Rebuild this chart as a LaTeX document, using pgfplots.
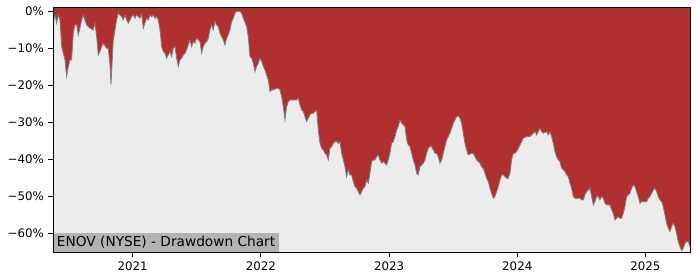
\documentclass[border=0pt]{standalone}
\usepackage{pgfplots}
\pgfplotsset{compat=1.18}
\usepackage{pgfplotstable}
\usepackage{fontspec}
\setmainfont{DejaVu Sans}
\definecolor{ddred}{RGB}{176,48,48}
\definecolor{bggray}{RGB}{236,236,236}
\definecolor{boxgray}{RGB}{179,179,179}
\definecolor{linegray}{RGB}{125,125,125}
\pgfplotstableread{
year dd
2020.381 -2.79
2020.394 -0.99
2020.407 -3.24
2020.420 -0.99
2020.433 -2.34
2020.446 -9.55
2020.459 -11.35
2020.472 -13.15
2020.485 -17.66
2020.498 -14.95
2020.511 -13.15
2020.524 -13.15
2020.537 -5.95
2020.550 -3.69
2020.563 -3.69
2020.576 -6.40
2020.589 -4.59
2020.602 -2.34
2020.615 -0.99
2020.628 -2.34
2020.641 -3.69
2020.667 -4.59
2020.693 -5.05
2020.706 -3.24
2020.719 -6.85
2020.732 -11.80
2020.745 -10.90
2020.758 -9.55
2020.771 -8.65
2020.797 -10.00
2020.810 -10.00
2020.823 -14.50
2020.831 -19.91
2020.841 -13.15
2020.849 -7.75
2020.862 -5.05
2020.875 -2.34
2020.888 -0.54
2020.901 -0.99
2020.914 -1.44
2020.927 -2.34
2020.940 -0.99
2020.953 -2.34
2020.966 -3.24
2020.979 -2.34
2020.992 -1.44
2021.005 -0.99
2021.018 -1.89
2021.031 -0.99
2021.057 -1.89
2021.070 -0.72
2021.083 -4.59
2021.096 -3.24
2021.109 -1.89
2021.122 -2.34
2021.135 -0.99
2021.148 -1.44
2021.161 -0.99
2021.174 -1.89
2021.187 -1.44
2021.200 -2.34
2021.213 -5.05
2021.226 -9.55
2021.239 -10.90
2021.252 -11.35
2021.265 -12.70
2021.278 -11.80
2021.291 -10.90
2021.304 -12.25
2021.317 -10.00
2021.330 -9.55
2021.343 -12.70
2021.356 -14.95
2021.369 -13.15
2021.382 -12.70
2021.395 -11.80
2021.408 -11.35
2021.421 -10.45
2021.434 -9.10
2021.447 -7.75
2021.460 -9.55
2021.473 -8.20
2021.486 -8.65
2021.499 -7.30
2021.512 -7.75
2021.525 -8.20
2021.538 -11.35
2021.551 -9.55
2021.564 -8.65
2021.577 -8.20
2021.590 -7.30
2021.603 -5.05
2021.616 -3.69
2021.629 -5.05
2021.642 -2.79
2021.655 -3.69
2021.668 -4.14
2021.681 -5.95
2021.694 -6.85
2021.707 -7.75
2021.720 -9.10
2021.733 -7.30
2021.746 -6.40
2021.759 -5.05
2021.772 -2.79
2021.785 -1.89
2021.798 -0.54
2021.811 0
2021.837 0
2021.850 -0.54
2021.863 -1.89
2021.889 -4.14
2021.902 -6.85
2021.915 -12.25
2021.928 -12.70
2021.941 -14.05
2021.954 -16.31
2021.967 -14.95
2021.980 -14.05
2021.993 -12.70
2022.006 -13.60
2022.019 -14.95
2022.032 -15.86
2022.045 -17.21
2022.058 -18.56
2022.071 -21.71
2022.084 -21.26
2022.097 -21.26
2022.123 -20.81
2022.136 -20.81
2022.149 -21.26
2022.162 -23.06
2022.175 -25.77
2022.188 -29.37
2022.201 -25.77
2022.214 -24.41
2022.227 -23.96
2022.253 -23.96
2022.279 -23.96
2022.292 -23.51
2022.305 -25.32
2022.318 -26.67
2022.331 -27.12
2022.344 -28.47
2022.357 -29.82
2022.370 -28.92
2022.383 -28.02
2022.396 -27.57
2022.409 -27.57
2022.422 -27.12
2022.435 -26.67
2022.448 -32.07
2022.461 -35.68
2022.474 -37.03
2022.487 -37.48
2022.500 -38.38
2022.513 -38.83
2022.526 -40.18
2022.539 -37.03
2022.552 -36.58
2022.565 -35.68
2022.578 -35.23
2022.591 -35.23
2022.604 -35.68
2022.617 -35.23
2022.630 -38.38
2022.643 -40.18
2022.656 -41.98
2022.669 -44.68
2022.682 -42.88
2022.695 -44.23
2022.708 -44.23
2022.721 -46.04
2022.734 -47.39
2022.747 -47.84
2022.760 -48.74
2022.773 -49.64
2022.786 -48.74
2022.799 -47.84
2022.812 -47.39
2022.825 -45.59
2022.838 -46.49
2022.851 -43.78
2022.864 -40.63
2022.877 -40.18
2022.890 -40.18
2022.903 -39.28
2022.916 -38.83
2022.929 -40.18
2022.942 -41.08
2022.955 -40.63
2022.968 -41.08
2022.981 -41.53
2022.994 -40.18
2023.007 -38.38
2023.020 -35.68
2023.033 -35.23
2023.046 -33.87
2023.059 -32.07
2023.072 -31.17
2023.085 -29.37
2023.098 -30.27
2023.111 -30.72
2023.124 -31.17
2023.137 -34.77
2023.150 -36.13
2023.163 -36.58
2023.176 -38.38
2023.189 -40.18
2023.202 -41.53
2023.215 -43.78
2023.228 -44.23
2023.241 -41.98
2023.254 -41.53
2023.267 -41.08
2023.280 -40.18
2023.293 -38.38
2023.306 -37.03
2023.319 -36.58
2023.332 -36.58
2023.345 -37.48
2023.358 -38.38
2023.371 -38.38
2023.384 -39.28
2023.397 -41.08
2023.410 -40.18
2023.423 -38.38
2023.436 -36.58
2023.449 -34.77
2023.462 -33.87
2023.475 -32.97
2023.501 -30.27
2023.527 -28.47
2023.540 -28.29
2023.553 -28.92
2023.566 -30.27
2023.579 -32.97
2023.592 -35.68
2023.605 -37.48
2023.618 -38.83
2023.631 -38.56
2023.657 -38.38
2023.670 -39.28
2023.683 -40.18
2023.709 -41.08
2023.722 -41.98
2023.735 -42.43
2023.748 -43.78
2023.761 -45.14
2023.774 -46.04
2023.787 -47.84
2023.800 -49.19
2023.813 -50.54
2023.826 -50.09
2023.839 -48.74
2023.852 -47.39
2023.865 -45.59
2023.878 -44.23
2023.891 -44.23
2023.904 -44.68
2023.917 -45.14
2023.930 -45.14
2023.943 -43.78
2023.956 -40.18
2023.969 -38.38
2023.982 -38.38
2023.995 -37.93
2024.008 -37.03
2024.021 -36.13
2024.034 -35.23
2024.047 -34.32
2024.073 -33.87
2024.099 -33.87
2024.112 -33.42
2024.125 -32.97
2024.138 -32.52
2024.151 -33.42
2024.164 -32.52
2024.177 -31.62
2024.190 -32.52
2024.203 -32.97
2024.229 -32.52
2024.242 -33.42
2024.255 -32.52
2024.268 -33.87
2024.281 -35.68
2024.294 -37.93
2024.307 -39.28
2024.320 -40.18
2024.333 -40.63
2024.346 -42.43
2024.359 -42.88
2024.372 -43.33
2024.385 -44.23
2024.398 -44.68
2024.411 -46.49
2024.424 -47.84
2024.437 -50.09
2024.450 -50.54
2024.463 -50.54
2024.489 -50.54
2024.502 -50.99
2024.515 -50.99
2024.528 -49.64
2024.541 -48.74
2024.554 -48.29
2024.567 -47.84
2024.580 -50.09
2024.593 -52.34
2024.606 -51.44
2024.619 -50.09
2024.632 -50.09
2024.645 -50.99
2024.658 -50.09
2024.671 -50.54
2024.684 -51.89
2024.697 -52.34
2024.723 -52.34
2024.736 -53.69
2024.749 -54.59
2024.762 -56.40
2024.775 -55.95
2024.788 -55.50
2024.801 -55.95
2024.814 -55.95
2024.827 -54.59
2024.840 -52.79
2024.853 -50.09
2024.866 -49.64
2024.879 -49.19
2024.892 -47.84
2024.905 -46.94
2024.918 -47.39
2024.931 -48.74
2024.944 -50.09
2024.957 -51.89
2024.970 -51.44
2024.983 -51.44
2025.009 -51.44
2025.022 -50.54
2025.035 -50.09
2025.048 -49.19
2025.061 -48.29
2025.074 -47.84
2025.087 -48.74
2025.100 -50.09
2025.113 -50.99
2025.126 -51.44
2025.139 -52.79
2025.152 -55.05
2025.165 -57.30
2025.178 -58.65
2025.191 -59.55
2025.204 -58.20
2025.217 -57.30
2025.230 -58.20
2025.243 -60.00
2025.256 -62.25
2025.269 -63.60
2025.282 -64.68
2025.295 -64.05
2025.308 -62.70
2025.321 -62.25
2025.334 -62.25
2025.347 -63.60
}\dd
\begin{document}
\begin{tikzpicture}
\begin{axis}[
  scale only axis,
  width=637.4bp, height=245bp,
  xmin=2020.381, xmax=2025.353,
  ymin=-65.14, ymax=1.08,
  axis background/.style={fill=ddred},
  axis on top,
  axis line style={black, line width=1.1bp},
  tick style={black, line width=1.1bp},
  major tick length=5bp,
  tick align=outside,
  xtick pos=bottom, ytick pos=left,
  xtick={2021,2022,2023,2024,2025},
  xticklabels={2021,2022,2023,2024,2025},
  ytick={-60,-50,-40,-30,-20,-10,0},
  yticklabels={−60\%,−50\%,−40\%,−30\%,−20\%,−10\%,0\%},
  ticklabel style={font=\fontsize{11.8bp}{14bp}\selectfont},
  xticklabel style={yshift=-1bp},
  yticklabel style={xshift=-1bp},
]
\addplot[fill=bggray, draw=none] table[x=year,y=dd] {\dd}
  -- (axis cs:2025.353,-70) -- (axis cs:2020.381,-70) -- cycle;
\addplot[draw=linegray, line width=0.8bp] table[x=year,y=dd] {\dd};
\node[fill=boxgray, anchor=south west, inner xsep=3.5bp, inner ysep=0pt,
  minimum height=19bp, font=\fontsize{13.7bp}{16bp}\selectfont]
  at (rel axis cs:0,0) {ENOV (NYSE) - Drawdown Chart};
\end{axis}
\path ([shift={(-53.3bp,-27.7bp)}]current axis.south west) rectangle ++(700bp,280bp);
\end{tikzpicture}
\end{document}
